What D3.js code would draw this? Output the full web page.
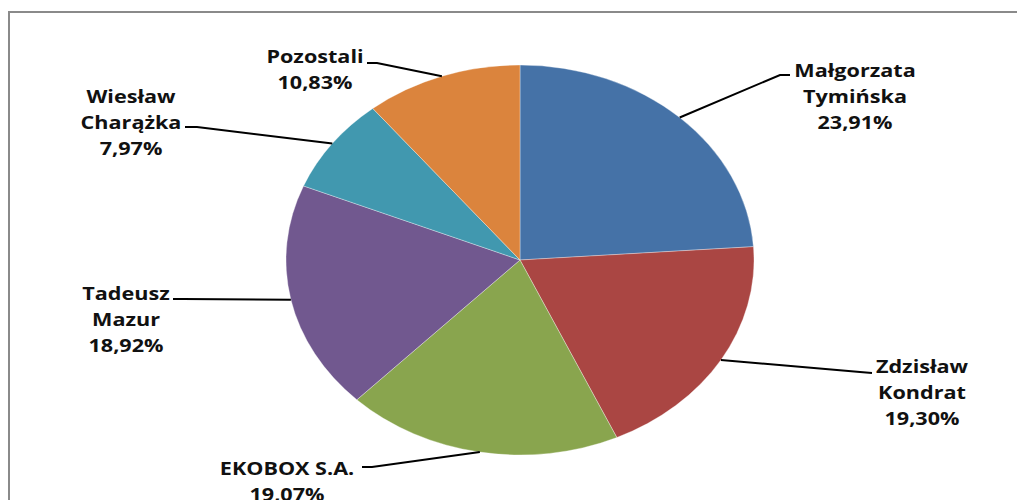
<!DOCTYPE html>
<meta charset="utf-8">
<script src="https://cdn.jsdelivr.net/npm/d3@7"></script>
<style>
body { margin: 0; background: #fff; }
.label {
  font-family: "Open Sans", sans-serif;
  font-weight: 700;
  font-size: 18px;
  fill: #111;
}
.leader {
  stroke: #000;
  stroke-width: 2px;
  fill: none;
}
</style>
<body>
<script>

// data
var names = ["Małgorzata\nTymińska", "Zdzisław\nKondrat", "EKOBOX S.A.", "Tadeusz\nMazur", "Wiesław\nCharążka", "Pozostali"];
var values = [23.91, 19.30, 19.07, 18.92, 7.97, 10.83];
var colors = ["#4572A7", "#AA4643", "#89A54E", "#71588F", "#4198AF", "#DB843D"];

// where each label sits (centre x, first baseline y) and where its leader ends
var labelLayout = [
  {x: 855, y: 77, elbow: [780, 75], end: [790, 75]},
  {x: 922, y: 373, elbow: [860, 372], end: [872, 373]},
  {x: 287, y: 475, elbow: [372, 467], end: [362, 467]},
  {x: 126, y: 300, elbow: [183, 299], end: [173, 299]},
  {x: 131, y: 103, elbow: [197, 127], end: [185, 127]},
  {x: 315, y: 63, elbow: [377, 63], end: [367, 63]}
];

var width = 1017,
    height = 500,
    cx = 520, cy = 260,
    ry = 195, sx = 1.2, rx = ry * sx;

var fmt = function(v) { return v.toFixed(2).replace(".", ",") + "%"; };

var svg = d3.select("body").append("svg")
    .attr("width", width)
    .attr("height", height);

// chart frame (runs off the right and bottom edge)
svg.append("rect")
    .attr("x", 9).attr("y", 12)
    .attr("width", 1200).attr("height", 700)
    .attr("fill", "none")
    .attr("stroke", "#8a8a8a")
    .attr("stroke-width", 2);

var pie = d3.pie().sort(null).value(function(d) { return d; });
var arcs = pie(values);
var arc = d3.arc().innerRadius(0).outerRadius(ry);

svg.append("g")
    .attr("transform", "translate(" + cx + "," + cy + ") scale(" + sx + ",1)")
  .selectAll("path")
    .data(arcs)
    .enter().append("path")
    .attr("d", arc)
    .attr("fill", function(d, i) { return colors[i]; })
    .attr("stroke", "#fff")
    .attr("stroke-opacity", 0.5)
    .attr("stroke-width", 0.6);

// leader lines
svg.append("g").selectAll("path")
    .data(arcs)
    .enter().append("path")
    .attr("class", "leader")
    .attr("d", function(d, i) {
      var a = (d.startAngle + d.endAngle) / 2;
      var px = cx + rx * Math.sin(a),
          py = cy - ry * Math.cos(a);
      var L = labelLayout[i];
      return "M" + px + "," + py + "L" + L.elbow[0] + "," + L.elbow[1] + "L" + L.end[0] + "," + L.end[1];
    });

// labels
var lab = svg.append("g").selectAll("text")
    .data(arcs)
    .enter().append("text")
    .attr("class", "label")
    .attr("text-anchor", "middle")
    .attr("transform", function(d, i) {
      var L = labelLayout[i];
      return "translate(" + L.x + "," + L.y + ") scale(" + sx + ",1)";
    });

lab.each(function(d, i) {
  var lines = names[i].split("\n").concat([fmt(values[i])]);
  d3.select(this).selectAll("tspan")
      .data(lines)
      .enter().append("tspan")
      .attr("x", 0)
      .attr("y", function(t, j) { return j * 26; })
      .text(function(t) { return t; });
});

</script>
</body>
